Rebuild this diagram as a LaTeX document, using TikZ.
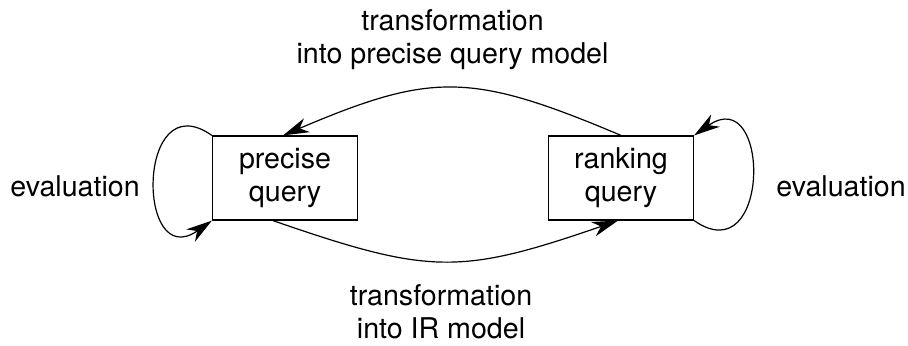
\documentclass[tikz,border=0pt]{standalone}
\usepackage{fontspec}
\setmainfont{TeX Gyre Heros}
\usetikzlibrary{arrows.meta}
\begin{document}
\begin{tikzpicture}[x=0.5pt,y=-0.5pt,
  every node/.style={font=\fontsize{14.3pt}{16.5pt}\selectfont},
  qbox/.style={draw, line width=0.6pt, minimum width=72.5pt, minimum height=42pt,
    inner sep=0pt, align=center},
  link/.style={line width=0.6pt, -{Stealth[length=13pt,width=7.5pt,inset=4pt]}},
  lbl/.style={align=center, anchor=base}]
\useasboundingbox (0,0) rectangle (908,345);

% the two query boxes
\node[qbox] (prec) at (285,178) {precise\\query};
\node[qbox] (rank) at (621,178) {ranking\\query};

% transformations between the two query kinds
\draw[link] (rank.north) .. controls (471,72) and (432,72) .. ([xshift=-1pt]prec.north);
\draw[link] ([xshift=-6pt]prec.south) .. controls (430,275) and (460,275) .. ([xshift=-1.5pt]rank.south);

% evaluation loops
\draw[link] (prec.north west) .. controls (136,82) and (136,274) .. (prec.south west);
\draw[link] (rank.south east) .. controls (771,274) and (771,82) .. (rank.north east);

% labels (base anchor sits on the last line)
\node[lbl] (toplabel) at (452.5,63) {transformation\\into precise query model};
\node[lbl] (botlabel) at (441,338) {transformation\\into IR model};
\node[anchor=base] (evalleft) at (75,196) {evaluation};
\node[anchor=base] (evalright) at (841,196) {evaluation};
\end{tikzpicture}
\end{document}
